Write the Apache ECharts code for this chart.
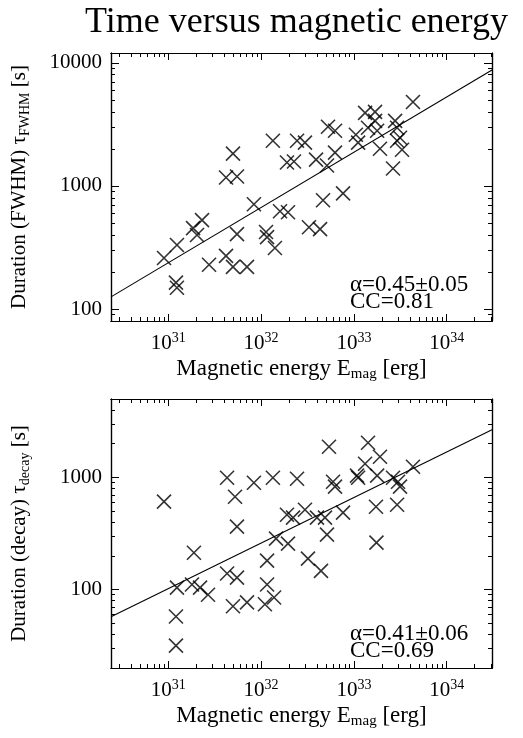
<!DOCTYPE html>
<html>
<head>
<meta charset="UTF-8">
<title>Time versus magnetic energy</title>
<script src="https://cdn.jsdelivr.net/npm/echarts@6/dist/echarts.min.js"></script>
<style>
*{margin:0;padding:0}
html,body{width:100%;height:100%;background:#fff}
#main{width:523px;height:738px}
</style>
</head>
<body>
<div id="main"></div>
<script>
// top panel: FWHM duration [s] vs magnetic energy [erg]
var energyFwhm = [9.0e30,1.21e31,1.24e31,1.24e31,1.85e31,2.04e31,2.31e31,2.75e31,4.19e31,4.98e31,
    7.05e31,5.50e31,4.19e31,5.50e31,4.98e31,8.37e31,1.13e32,1.16e32,1.41e32,1.60e32,
    1.95e32,1.34e32,1.90e32,2.26e32,2.44e32,2.97e32,3.91e32,3.28e32,4.32e32,4.65e32,
    5.26e32,5.13e32,6.26e32,6.26e32,7.64e32,1.05e33,1.11e33,1.32e33,1.42e33,1.69e33,
    1.69e33,1.78e33,1.91e33,2.64e33,2.78e33,2.92e33,2.92e33,3.14e33,3.30e33,4.33e33];
var durFwhm = [260,164,149,331,454,399,527,229,270,220,
    220,406,1171,1193,1828,710,422,384,313,622,
    611,2328,1549,1577,2328,2244,1636,462,446,764,
    3020,1463,2804,1862,870,2600,2244,3917,2965,3990,
    3374,2804,2005,1384,3374,2965,2328,2462,1968,4797];

// bottom panel: decay time [s]
var energyDecay = [9.0e30,4.30e31,5.24e31,5.50e31,8.37e31,1.34e32,2.44e32,1.90e32,2.21e32,2.97e32,
    4.00e32,4.88e32,5.39e32,1.42e33,1.91e33,1.32e33,1.08e33,1.11e33,5.96e32,6.26e32,
    1.78e33,2.64e33,2.99e33,3.14e33,4.33e33,7.64e32,1.73e33,2.92e33,5.13e32,1.75e33,
    1.45e32,1.95e32,1.89e31,1.24e31,1.80e31,2.20e31,2.68e31,4.30e31,5.50e31,1.16e32,
    3.20e32,4.42e32,1.16e32,4.98e31,7.05e31,1.10e32,1.38e32,1.21e31,1.21e31];
var durDecay = [608,994,673,364,897,994,973,465,438,515,
    438,438,1875,2037,1528,1325,1036,994,915,827,
    1036,994,915,827,1245,485,548,571,309,262,
    285,257,213,104,111,104,90,139,128,181,
    189,147,111,71,77,74,85,57.6,31.7];

// fit lines (end points read at the frame edges)
var fitFwhmE = [2.415e30, 3.076e34], fitFwhmT = [125.6, 8730];
var fitDecayE = [2.415e30, 3.076e34], fitDecayT = [57.2, 2660];

var xRange = [2.415e30, 3.076e34];
var yRangeTop = [80, 12000];
var yRangeBot = [20, 5000];
var xMajor = [1e31, 1e32, 1e33, 1e34];
var yMajorTop = [100, 1000, 10000];
var yMajorBot = [100, 1000];
var fitText = ['α=0.45±0.05\nCC=0.81', 'α=0.41±0.06\nCC=0.69'];

var FONT = 'Liberation Serif';
function lg(v) { return Math.log10(v); }

// 2..9 x 10^n positions inside the range, in log10 units
function minorTicks(range) {
    var lo = lg(range[0]), hi = lg(range[1]), out = [];
    for (var n = Math.floor(lo); n <= Math.ceil(hi); n++) {
        for (var k = 2; k <= 9; k++) {
            var v = n + Math.log10(k);
            if (v > lo && v < hi) out.push(v);
        }
    }
    return out;
}

function axis(grid, pos, range, ticks, len) {
    return {
        type: 'value', gridIndex: grid, position: pos,
        min: lg(range[0]), max: lg(range[1]),
        axisLine: {show: true, onZero: false, lineStyle: {color: '#000', width: 1.2}},
        axisTick: {show: true, inside: true, length: len, customValues: ticks, lineStyle: {color: '#000', width: 1}},
        axisLabel: {show: false},
        splitLine: {show: false}
    };
}

function xAxes(grid) {
    var major = xMajor.map(lg), minor = minorTicks(xRange);
    var bottom = axis(grid, 'bottom', xRange, major, 7);
    bottom.axisLabel = {
        show: true, customValues: major, margin: 10,
        formatter: function (v) { return '{b|10}{e|' + Math.round(v) + '}'; },
        rich: {
            b: {fontFamily: FONT, fontSize: 21, color: '#000', lineHeight: 24},
            e: {fontFamily: FONT, fontSize: 14, color: '#000', lineHeight: 10, verticalAlign: 'top'}
        }
    };
    bottom.name = '{n|Magnetic energy E}{s|mag}{n| [erg]}';
    bottom.nameLocation = 'middle';
    bottom.nameGap = 35;
    bottom.nameTextStyle = {
        rich: {
            n: {fontFamily: FONT, fontSize: 23, color: '#000', lineHeight: 26},
            s: {fontFamily: FONT, fontSize: 15, color: '#000', lineHeight: 8, verticalAlign: 'bottom'}
        }
    };
    return [bottom, axis(grid, 'bottom', xRange, minor, 4),
            axis(grid, 'top', xRange, major, 7), axis(grid, 'top', xRange, minor, 4)];
}

function yAxes(grid, range, majorVals, sub) {
    var major = majorVals.map(lg), minor = minorTicks(range);
    var left = axis(grid, 'left', range, major, 8);
    left.axisLabel = {
        show: true, customValues: major, margin: 9,
        fontFamily: FONT, fontSize: 21, color: '#000',
        formatter: function (v) { return String(Math.round(Math.pow(10, v))); }
    };
    left.name = '{n|Duration (' + sub[0] + ') τ}{s|' + sub[1] + '}{n| [s]}';
    left.nameLocation = 'middle';
    left.nameGap = 79;
    left.nameTextStyle = {
        rich: {
            n: {fontFamily: FONT, fontSize: 21, color: '#000', lineHeight: 25},
            s: {fontFamily: FONT, fontSize: 14, color: '#000', lineHeight: 8, verticalAlign: 'bottom'}
        }
    };
    return [left, axis(grid, 'left', range, minor, 4),
            axis(grid, 'right', range, major, 8), axis(grid, 'right', range, minor, 4)];
}

function pairs(xs, ys) {
    return xs.map(function (x, i) { return [lg(x), lg(ys[i])]; });
}

var cross = 'path://M0 0L10 10M10 0L0 10';

function panelSeries(idx, es, ts, fe, ft) {
    return [{
        type: 'line', xAxisIndex: idx * 4, yAxisIndex: idx * 4,
        data: pairs(fe, ft), showSymbol: false, silent: true,
        lineStyle: {color: '#000', width: 1.1}
    }, {
        type: 'scatter', xAxisIndex: idx * 4, yAxisIndex: idx * 4,
        data: pairs(es, ts), symbol: cross, symbolSize: 14,
        itemStyle: {color: 'none', borderColor: '#000', borderWidth: 1.6}
    }];
}

var option = {
    backgroundColor: '#fff',
    animation: false,
    title: {
        text: 'Time versus magnetic energy', left: 80, top: 0,
        textStyle: {fontFamily: FONT, fontSize: 36, fontWeight: 'normal', color: '#000'}
    },
    grid: [
        {left: 111, top: 53, width: 381, height: 268},
        {left: 111, top: 399, width: 381, height: 269}
    ],
    xAxis: xAxes(0).concat(xAxes(1)),
    yAxis: yAxes(0, yRangeTop, yMajorTop, ['FWHM', 'FWHM']).concat(yAxes(1, yRangeBot, yMajorBot, ['decay', 'decay'])),
    series: panelSeries(0, energyFwhm, durFwhm, fitFwhmE, fitFwhmT)
        .concat(panelSeries(1, energyDecay, durDecay, fitDecayE, fitDecayT)),
    graphic: [
        {type: 'text', left: 350, top: 273, style: {text: fitText[0], font: '23px "Liberation Serif"', lineHeight: 17, fill: '#000'}},
        {type: 'text', left: 350, top: 622, style: {text: fitText[1], font: '23px "Liberation Serif"', lineHeight: 17, fill: '#000'}}
    ]
};

var myChart = echarts.init(document.getElementById('main'));
myChart.setOption(option);
</script>
</body>
</html>
